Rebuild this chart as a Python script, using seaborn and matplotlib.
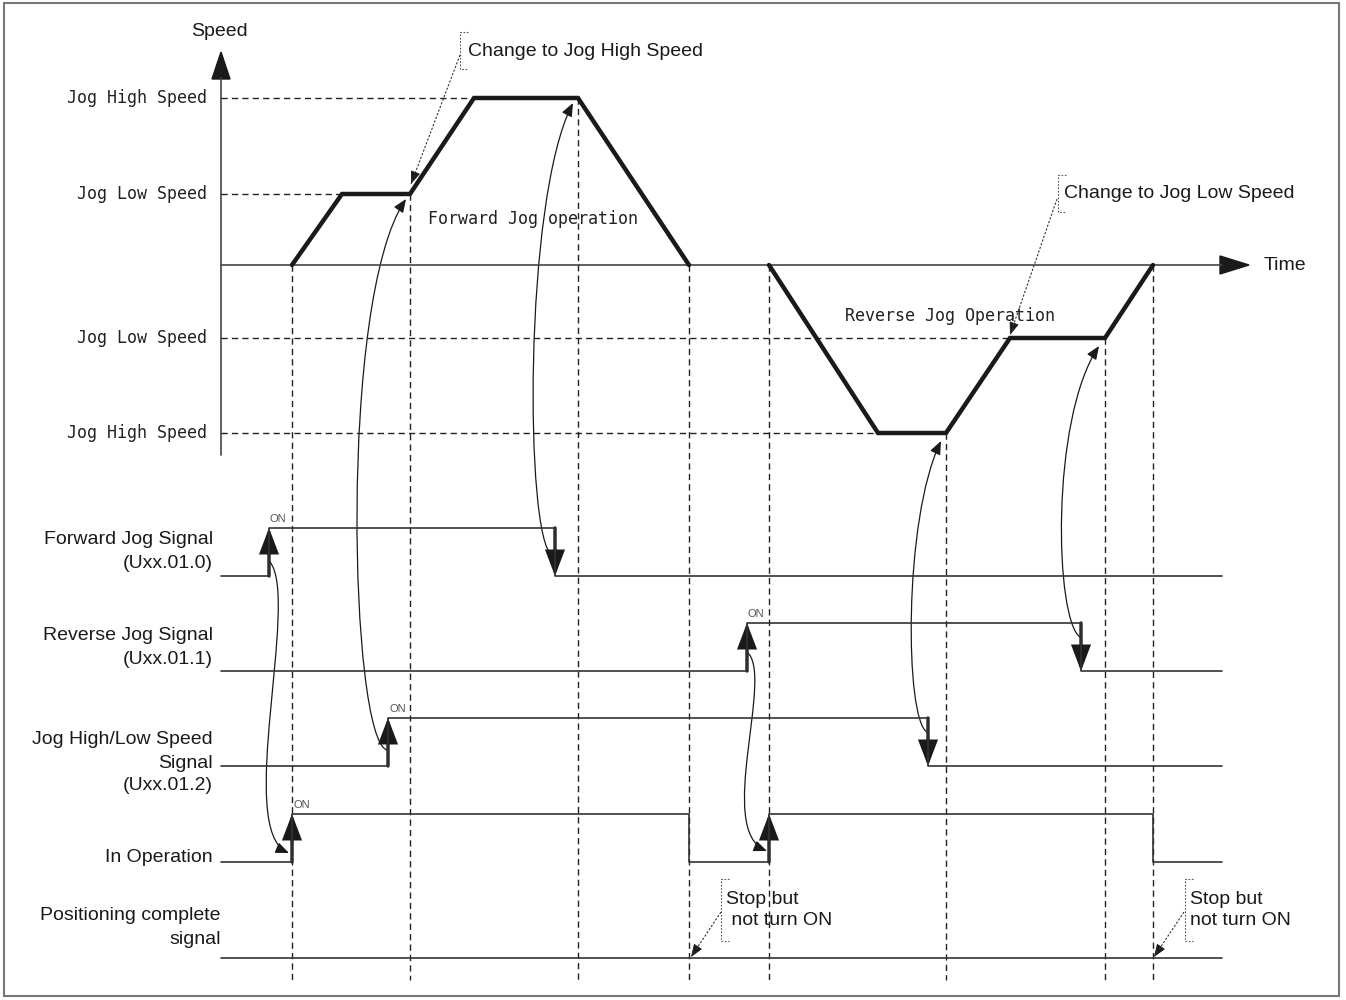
import matplotlib
matplotlib.use("Agg")
import matplotlib.pyplot as plt
import seaborn as sns
from matplotlib.patches import FancyArrowPatch, Polygon, Rectangle
from matplotlib.path import Path

# ---------------- data (diagram units; x = time position, y = vertical position) ----------------
AXIS_X0, AXIS_X1 = 221, 1222
ZERO_Y = 265

speed_level_labels = ["Jog High Speed", "Jog Low Speed", "Jog Low Speed", "Jog High Speed"]
speed_level_y = [98, 194, 338, 433]
speed_level_dash_end = [474, 342, 1010, 878]

fwd_t = [292, 342, 410, 474, 578, 689]
fwd_y = [265, 194, 194, 98, 98, 265]
rev_t = [769, 878, 946, 1010, 1105, 1153]
rev_y = [265, 433, 433, 338, 338, 265]

event_t = [292, 410, 578, 689, 769, 946, 1105, 1153]
event_top = [265, 194, 98, 265, 265, 433, 338, 265]
EVENT_BOTTOM = 980

signal_labels = [
    ["Forward Jog Signal", "(Uxx.01.0)"],
    ["Reverse Jog Signal", "(Uxx.01.1)"],
    ["Jog High/Low Speed", "Signal", "(Uxx.01.2)"],
    ["In Operation"],
    ["Positioning complete", "signal"],
]
signal_label_y = [[540, 564], [636, 660], [739, 763, 786], [858], [916, 940]]
signal_label_x = [213, 213, 213, 213, 221]
signal_low = [576, 671, 766, 862, 958]
signal_high = [528, 623, 718, 814, 910]
signal_edges = [
    [(269, "up", True), (555, "down", True)],
    [(747, "up", True), (1081, "down", True)],
    [(388, "up", True), (928, "down", True)],
    [(292, "up", True), (689, "down", False), (769, "up", True), (1153, "down", False)],
    [],
]

# curved cause->effect arrows (cubic Bezier control points)
curves = [
    [(270, 562), (300, 600), (235, 830), (289, 853)],
    [(387, 750), (350, 740), (338, 300), (406, 199)],
    [(552, 555), (525, 540), (523, 200), (573, 103)],
    [(747, 652), (775, 675), (715, 830), (767, 851)],
    [(927, 732), (905, 720), (903, 520), (941, 441)],
    [(1080, 637), (1055, 620), (1050, 420), (1099, 346)],
]

callout_text = ["Change to Jog High Speed", "Change to Jog Low Speed", "Stop but\n not turn ON", "Stop but\nnot turn ON"]
callout_bracket_x = [460, 1058, 721, 1185]
callout_bracket_y = [(32, 69), (175, 212), (879, 941), (879, 941)]
callout_text_xy = [(468, 51), (1064, 194), (726, 910), (1190, 910)]
callout_arrow = [((460, 55), (411, 184)), ((1057, 199), (1010, 335)),
                 ((721, 912), (691, 957)), ((1184, 912), (1154, 957))]

# ---------------- drawing ----------------
sns.set_theme(style="white")
plt.rcParams["font.family"] = ["Liberation Sans", "DejaVu Sans"]

fig = plt.figure(figsize=(13.46, 10), dpi=100)
ax = fig.add_axes([0, 0, 1, 1])
ax.set_xlim(0, 1346)
ax.set_ylim(1000, 0)
ax.axis("off")

LINE = "#222222"
MONO = "DejaVu Sans Mono"

# border
ax.add_patch(Rectangle((4, 3), 1335, 993, fill=False, ec="#777777", lw=1.5))

# speed axis
ax.plot([AXIS_X0, AXIS_X0], [78, 455], color="#444444", lw=1.2)
ax.add_patch(Polygon([(AXIS_X0 - 9, 79), (AXIS_X0 + 9, 79), (AXIS_X0, 52)], closed=True, color="k"))
ax.text(AXIS_X0 - 2, 32, "Speed", ha="center", va="center", fontsize=14, color="k")
# time axis
ax.plot([AXIS_X0, 1222], [ZERO_Y, ZERO_Y], color="#444444", lw=1.2)
ax.add_patch(Polygon([(1220, ZERO_Y - 9), (1220, ZERO_Y + 9), (1249, ZERO_Y)], closed=True, color="k"))
ax.text(1264, ZERO_Y, "Time", ha="left", va="center", fontsize=14, color="k")

# speed levels
for lab, y, xe in zip(speed_level_labels, speed_level_y, speed_level_dash_end):
    ax.plot([AXIS_X0, xe], [y, y], color=LINE, lw=1.0, dashes=(4.5, 3))
    ax.text(207, y, lab, ha="right", va="center", fontsize=12, family=MONO, color="#222222")

# event dashed verticals
for t, top in zip(event_t, event_top):
    ax.plot([t, t], [top, EVENT_BOTTOM], color=LINE, lw=1.0, dashes=(4.5, 3))

# speed profiles
for tt, yy in [(fwd_t, fwd_y), (rev_t, rev_y)]:
    sns.lineplot(x=tt, y=yy, ax=ax, color="k", lw=3.2, sort=False, estimator=None,
                 solid_joinstyle="miter")

ax.text(428, 219, "Forward Jog operation", ha="left", va="center", fontsize=12, family=MONO, color="#222222")
ax.text(845, 316, "Reverse Jog Operation", ha="left", va="center", fontsize=12, family=MONO, color="#222222")

# signals
for labs, ys, lx, lo, hi, edges in zip(signal_labels, signal_label_y, signal_label_x,
                                       signal_low, signal_high, signal_edges):
    for s, y in zip(labs, ys):
        ax.text(lx, y, s, ha="right", va="center", fontsize=14, color="k")
    xs, ys2 = [AXIS_X0], [lo]
    level = lo
    for (t, d, arr) in edges:
        xs.append(t); ys2.append(level)
        level = hi if d == "up" else lo
        xs.append(t); ys2.append(level)
    xs.append(1222); ys2.append(level)
    ax.plot(xs, ys2, color="#333333", lw=1.2)
    first_up = True
    for (t, d, arr) in edges:
        if arr:
            start, end = (lo, hi) if d == "up" else (hi, lo)
            ax.add_patch(FancyArrowPatch((t, start), (t, end), arrowstyle="-|>,head_length=1.45,head_width=0.55",
                                         mutation_scale=10, lw=2.4, color="k", shrinkA=0, shrinkB=0,
                                         joinstyle="miter"))
        if d == "up" and first_up:
            ax.text(t + 1, hi - 9, "ON", ha="left", va="center", fontsize=8, color="#555555")
            first_up = False

# curved arrows
for c in curves:
    p = Path(c, [Path.MOVETO, Path.CURVE4, Path.CURVE4, Path.CURVE4])
    ax.add_patch(FancyArrowPatch(path=p, arrowstyle="-|>,head_length=0.8,head_width=0.33",
                                 mutation_scale=10, lw=0.9, color="k"))

# callouts
for txt, bx, (b0, b1), (tx, ty), ((ax0, ay0), (ax1, ay1)) in zip(
        callout_text, callout_bracket_x, callout_bracket_y, callout_text_xy, callout_arrow):
    ax.plot([bx + 8, bx, bx, bx + 8], [b0, b0, b1, b1], color="#555555", lw=0.8, dashes=(1.5, 1.5))
    ax.text(tx, ty, txt, ha="left", va="center", fontsize=14, linespacing=1.25, color="k")
    ax.plot([ax0, ax1], [ay0, ay1], color="#333333", lw=0.8, dashes=(2, 1.5))
    fx = ax1 + (ax0 - ax1) * 0.08
    fy = ay1 + (ay0 - ay1) * 0.08
    ax.add_patch(FancyArrowPatch((fx, fy), (ax1, ay1), arrowstyle="-|>,head_length=0.8,head_width=0.3",
                                 mutation_scale=10, lw=0.6, color="k", shrinkA=0, shrinkB=0))

fig.savefig("out.png", dpi=100, facecolor="white")
